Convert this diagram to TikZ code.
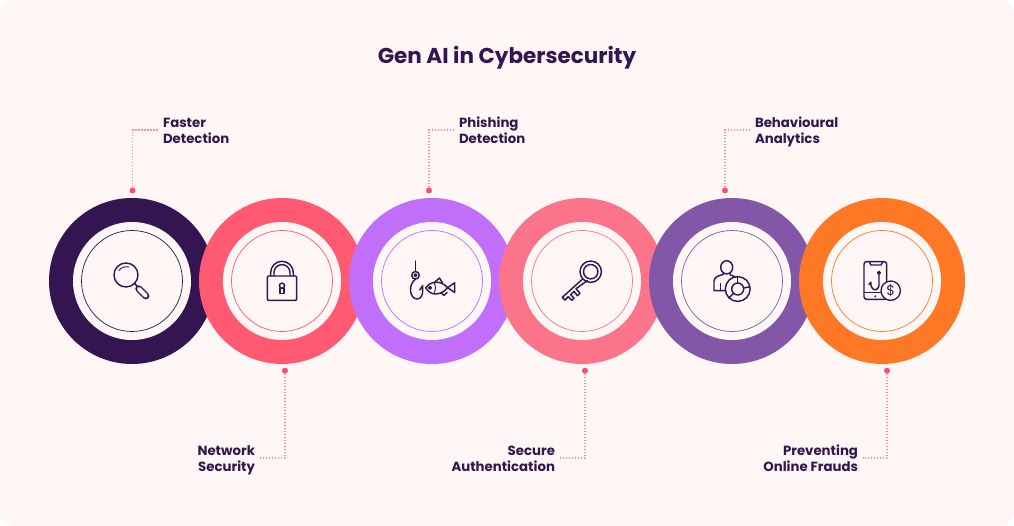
\documentclass[tikz,border=0pt]{standalone}
\usepackage{fontspec}
\usepackage{xcolor}
\setmainfont{Poppins}
\definecolor{inkdark}{HTML}{341552}
\definecolor{pagebg}{HTML}{FFF7F5}
\definecolor{ringpink}{HTML}{FF5A72}
\definecolor{ringlilac}{HTML}{C16EFB}
\definecolor{ringrose}{HTML}{FB7489}
\definecolor{ringviolet}{HTML}{8257A8}
\definecolor{ringorange}{HTML}{FF7826}
\definecolor{dotred}{HTML}{FF4D6D}
\definecolor{dotline}{HTML}{FF8C9C}
\newcommand{\twolines}[2]{\rule{0pt}{14.1pt}#1\\#2\rule[-3.5pt]{0pt}{3.5pt}}
\tikzset{
  ring/.style={circle,fill=#1,minimum size=166pt,inner sep=0pt},
  hole/.style={circle,fill=pagebg,minimum size=118pt,inner sep=0pt},
  thinring/.style={circle,draw=#1,line width=0.7pt,minimum size=101pt,inner sep=0pt},
  pin/.style={circle,fill=dotred,minimum size=6pt,inner sep=0pt},
  leader/.style={dotline,line width=1.5pt,dash pattern=on 1.5pt off 1.5pt},
  toplabel/.style={anchor=west,align=left,inner sep=0pt,outer sep=5pt,text=inkdark,font=\fontsize{13.3}{16}\selectfont\bfseries},
  botlabel/.style={anchor=east,align=right,inner sep=0pt,outer sep=5pt,text=inkdark,font=\fontsize{13.3}{16}\selectfont\bfseries},
  icon/.style={draw=inkdark,line width=1.45pt,line cap=round,line join=round}
}
\begin{document}
\begin{tikzpicture}[x=1pt,y=-1pt]
\useasboundingbox (0,0) rectangle (1014,526);
\fill[pagebg,rounded corners=14pt] (0,0) rectangle (1014,526);

\node[text=inkdark,font=\fontsize{21.5}{25}\selectfont\bfseries] (title) at (507,58) {Gen AI in Cybersecurity};

\node[ring=inkdark] (ringa) at (132,281) {};
\node[hole] (holea) at (132,281) {};
\node[thinring=inkdark] (circa) at (132,281) {};
\node[ring=ringpink] (ringb) at (282,281) {};
\node[hole] (holeb) at (282,281) {};
\node[thinring=ringpink] (circb) at (282,281) {};
\node[ring=ringlilac] (ringc) at (432,281) {};
\node[hole] (holec) at (432,281) {};
\node[thinring=ringlilac] (circc) at (432,281) {};
\node[ring=ringrose] (ringd) at (582,281) {};
\node[hole] (holed) at (582,281) {};
\node[thinring=ringrose] (circd) at (582,281) {};
\node[ring=ringviolet] (ringe) at (732,281) {};
\node[hole] (holee) at (732,281) {};
\node[thinring=ringviolet] (circe) at (732,281) {};
\node[ring=ringorange] (ringf) at (882,281) {};
\node[hole] (holef) at (882,281) {};
\node[thinring=ringorange] (circf) at (882,281) {};

\node[toplabel] (faster) at (158,130) {\twolines{Faster}{Detection}};
\node[toplabel] (phishing) at (454,130) {\twolines{Phishing}{Detection}};
\node[toplabel] (behaviour) at (750,130) {\twolines{Behavioural}{Analytics}};
\node[botlabel] (network) at (260,458) {\twolines{Network}{Security}};
\node[botlabel] (secure) at (560,458) {\twolines{Secure}{Authentication}};
\node[botlabel] (preventing) at (863,458) {\twolines{Preventing}{Online Frauds}};

\node[pin] (pina) at (132.5,190.5) {};
\node[pin] (pinc) at (429,190.5) {};
\node[pin] (pine) at (725,190.5) {};
\node[pin] (pinb) at (285,370.7) {};
\node[pin] (pind) at (585,370.7) {};
\node[pin] (pinf) at (887,370.7) {};

\draw[leader] (pina) |- (faster.west);
\draw[leader] (pinc) |- (phishing.west);
\draw[leader] (pine) |- (behaviour.west);
\draw[leader] (pinb) |- (network.east);
\draw[leader] (pind) |- (secure.east);
\draw[leader] (pinf) |- (preventing.east);

\draw[icon] (126,275) circle[radius=12];
\draw[icon,line width=0.9pt] (119,270.5) .. controls (121,267.5) and (125,266) .. (129,267);
\draw[icon] (134.5,283.5) -- (137,286);
\draw[line width=6.8pt,draw=inkdark,line cap=round] (138.7,288.7) -- (146,296);
\draw[line width=3.9pt,draw=pagebg,line cap=round] (138.7,288.7) -- (146,296);

\draw[icon,rounded corners=1pt] (267.3,276) rectangle (296.7,300.3);
\draw[icon] (270.7,276) -- (270.7,272.6) arc[start angle=180,end angle=360,radius=11.3] -- (293.3,276);
\draw[icon] (274,276) -- (274,272.6) arc[start angle=180,end angle=360,radius=8] -- (290,276);
\draw[icon] (282,285.7) circle[radius=2.6];
\draw[icon] (280.2,288) -- (280.2,293.7) -- (283.8,293.7) -- (283.8,288);

\draw[icon] (415.7,261) -- (415.7,271.6);
\draw[icon] (415.5,275.3) circle[radius=3.8];
\draw[icon] (415.5,275.3) circle[radius=1.4];
\draw[icon] (415.5,279.1) .. controls (412,282) and (410,286) .. (410.5,291) .. controls (411,296) and (414,299) .. (417,299) .. controls (421,299) and (422.7,295) .. (422.7,291) -- (422.7,285.5) -- (419.8,290);
\draw[icon] (425.7,287.7) .. controls (429,282.5) and (436,281) .. (441,283) .. controls (444,284) and (446,286) .. (447.5,287.7) .. controls (445,291) and (441,294) .. (435,294) .. controls (431,294) and (428,291.5) .. (425.7,287.7) -- cycle;
\draw[icon] (447.5,287.7) -- (454.7,282.7) -- (454.7,292.5) -- cycle;
\draw[icon] (430,287.7) circle[radius=1.3];
\draw[icon,line width=0.9pt] (434,282.5) .. controls (436,286) and (436,290) .. (434,293);
\draw[icon] (435,281.8) -- (439.5,278) -- (442.5,282.8);
\draw[icon] (441,293) -- (444,295.3) -- (447,292.5);

\draw[icon] (590.7,271.7) circle[radius=10.7];
\draw[icon] (590.7,271.7) circle[radius=7.2];
\draw[icon] (582.3,279.3) -- (562.3,297.3) -- (565,300) -- (568.3,296.7) -- (571.7,300.3) -- (574,298.3) -- (570.7,294.7) -- (574,291.3) -- (577.3,295.7) -- (580,293.3) -- (576,288.7) -- (587.3,280.6);

\draw[icon] (726.7,267.3) ellipse[x radius=6,y radius=6.6];
\draw[icon] (723.3,273.3) -- (723,274.6) .. controls (719,275.5) and (714,277) .. (714,281) -- (714,290.7) -- (728,290.7);
\draw[icon] (730,273.6) -- (730.4,275) .. controls (732,275.5) and (734,276.2) .. (735.5,277.3);
\draw[icon] (720.7,283.5) -- (720.7,290.7);
\draw[icon,fill=pagebg] (737.7,289) circle[radius=12.4];
\draw[icon] (737.7,289) circle[radius=6];
\draw[icon] (737.7,276.6) -- (737.7,283);
\draw[icon] (743.5,288) -- (749.9,286.8);
\draw[icon] (733.5,293.3) -- (729,298);

\draw[icon,rounded corners=2.5pt] (864,261.7) rectangle (886.7,299.3);
\draw[icon] (869.3,261.9) -- (870.9,265) -- (880.9,265) -- (882.8,261.9);
\draw[icon] (864,292.7) -- (881,292.7);
\fill[inkdark] (875.3,296.3) circle[radius=1.1];
\draw[icon] (879,272.7) circle[radius=1.3];
\draw[icon] (879,274) -- (879,285) .. controls (879,289) and (875,291) .. (873,289) .. controls (871,287.5) and (870.7,285) .. (870.7,282.3);
\draw[icon] (870.7,282.3) -- (869,284.5);
\node[circle,draw=inkdark,fill=pagebg,line width=1.3pt,minimum size=19.4pt,inner sep=0pt,text=inkdark,font=\fontsize{14}{14}\selectfont] (coin) at (890.7,290.7) {\$};
\end{tikzpicture}
\end{document}
